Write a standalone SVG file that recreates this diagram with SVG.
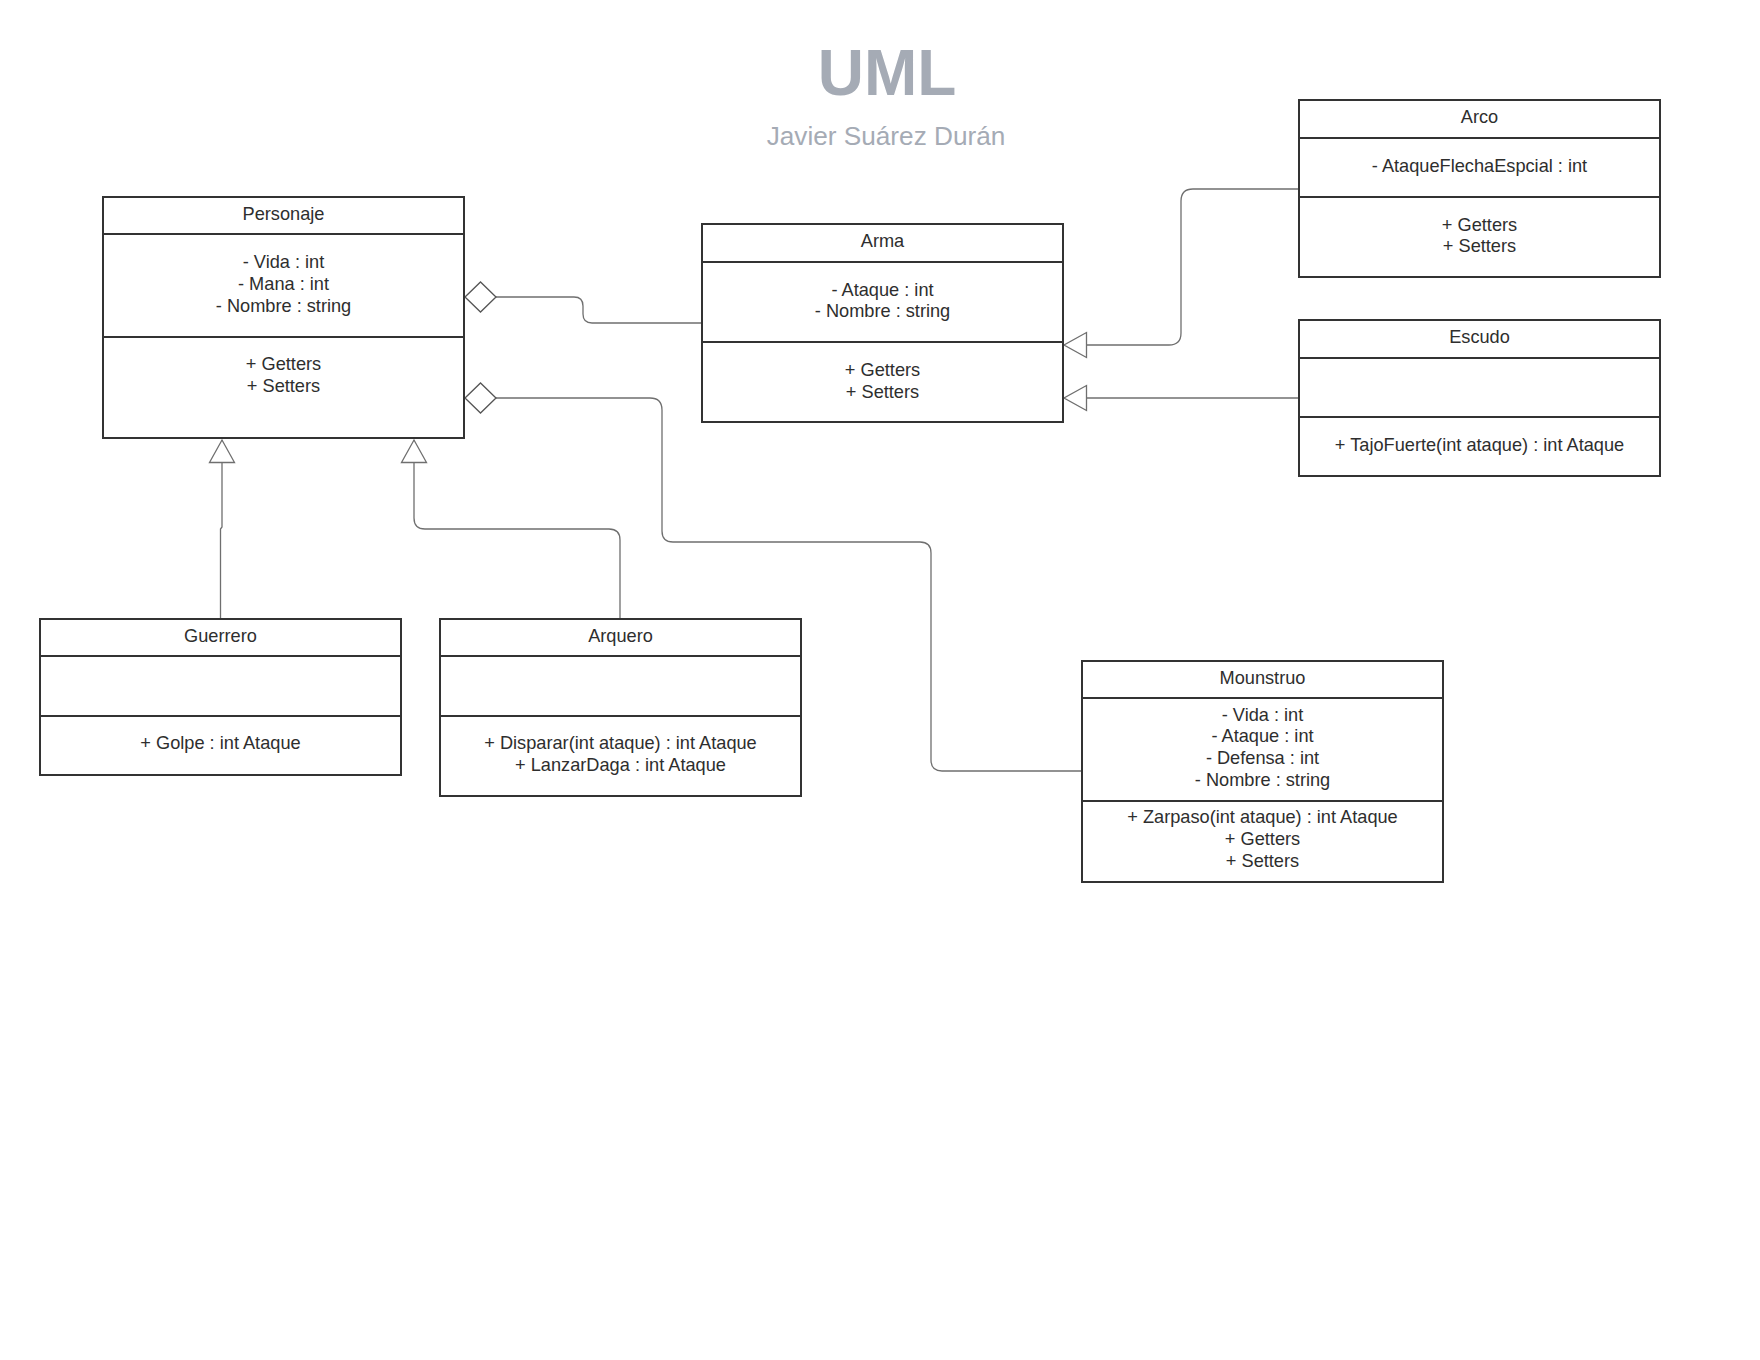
<svg xmlns="http://www.w3.org/2000/svg" width="1760" height="1360" viewBox="0 0 1760 1360">
<style>
.box{fill:#fff;stroke:#333;stroke-width:2}
.sep{stroke:#333;stroke-width:2}
.t{font-family:"Liberation Sans",Arial,sans-serif;font-size:18.2px;fill:#2e2e2e;text-anchor:middle}
.con{fill:none;stroke:#6f6f6f;stroke-width:1.3}
.title{font-family:"Liberation Sans",Arial,sans-serif;fill:#a5abb5;text-anchor:middle}
</style>
<defs>
<marker id="tri" markerUnits="userSpaceOnUse" markerWidth="26" markerHeight="28" viewBox="0 0 26 28" refX="24" refY="14" orient="auto">
<path d="M1.5,1.5 L24,14 L1.5,26.5 Z" fill="#fff" stroke="#6f6f6f" stroke-width="1.3"/>
</marker>
<marker id="dia" markerUnits="userSpaceOnUse" markerWidth="34" markerHeight="32" viewBox="0 0 34 32" refX="1" refY="16" orient="auto">
<path d="M1,16 L16.5,1 L32,16 L16.5,31 Z" fill="#fff" stroke="#555" stroke-width="1.3"/>
</marker>
</defs>
<rect width="1760" height="1360" fill="#fff"/>

<g id="title">
<text class="title" x="887" y="95" font-size="64" font-weight="bold">UML</text>
<text class="title" x="886" y="145" font-size="26.2">Javier Suárez Durán</text>
</g>

<g id="connectors">
<path class="con" marker-start="url(#dia)" d="M465,297 H574 Q583,297 583,306 V314 Q583,323 592,323 H702"/>
<path class="con" marker-start="url(#dia)" d="M465,398 H650 Q662,398 662,410 V531 Q662,542 673,542 H920 Q931,542 931,553 V760 Q931,771 942,771 H1082"/>
<path class="con" marker-end="url(#tri)" d="M220.5,619 V529 L222,527 V440"/>
<path class="con" marker-end="url(#tri)" d="M620,619 V540 Q620,529 609,529 H425 Q414,529 414,518 V440"/>
<path class="con" marker-end="url(#tri)" d="M1299,189 H1193 Q1181,189 1181,201 V333 Q1181,345 1169,345 H1064"/>
<path class="con" marker-end="url(#tri)" d="M1299,398 H1064"/>
</g>

<g id="Personaje">
<rect class="box" x="103" y="197" width="361" height="241"/>
<line class="sep" x1="103" y1="234" x2="464" y2="234"/>
<line class="sep" x1="103" y1="337" x2="464" y2="337"/>
<text class="t" x="283.5" y="220">Personaje</text>
<text class="t" x="283.5" y="268.3">- Vida : int</text>
<text class="t" x="283.5" y="290">- Mana : int</text>
<text class="t" x="283.5" y="311.7">- Nombre : string</text>
<text class="t" x="283.5" y="370">+ Getters</text>
<text class="t" x="283.5" y="391.7">+ Setters</text>
</g>

<g id="Arma">
<rect class="box" x="702" y="224" width="361" height="198"/>
<line class="sep" x1="702" y1="262" x2="1063" y2="262"/>
<line class="sep" x1="702" y1="342" x2="1063" y2="342"/>
<text class="t" x="882.5" y="247">Arma</text>
<text class="t" x="882.5" y="295.5">- Ataque : int</text>
<text class="t" x="882.5" y="317.2">- Nombre : string</text>
<text class="t" x="882.5" y="376">+ Getters</text>
<text class="t" x="882.5" y="397.7">+ Setters</text>
</g>

<g id="Arco">
<rect class="box" x="1299" y="100" width="361" height="177"/>
<line class="sep" x1="1299" y1="138" x2="1660" y2="138"/>
<line class="sep" x1="1299" y1="197" x2="1660" y2="197"/>
<text class="t" x="1479.5" y="123">Arco</text>
<text class="t" x="1479.5" y="171.5">- AtaqueFlechaEspcial : int</text>
<text class="t" x="1479.5" y="230.5">+ Getters</text>
<text class="t" x="1479.5" y="252.2">+ Setters</text>
</g>

<g id="Escudo">
<rect class="box" x="1299" y="320" width="361" height="156"/>
<line class="sep" x1="1299" y1="358" x2="1660" y2="358"/>
<line class="sep" x1="1299" y1="417" x2="1660" y2="417"/>
<text class="t" x="1479.5" y="343">Escudo</text>
<text class="t" x="1479.5" y="450.5">+ TajoFuerte(int ataque) : int Ataque</text>
</g>

<g id="Guerrero">
<rect class="box" x="40" y="619" width="361" height="156"/>
<line class="sep" x1="40" y1="656" x2="401" y2="656"/>
<line class="sep" x1="40" y1="716" x2="401" y2="716"/>
<text class="t" x="220.5" y="642">Guerrero</text>
<text class="t" x="220.5" y="749">+ Golpe : int Ataque</text>
</g>

<g id="Arquero">
<rect class="box" x="440" y="619" width="361" height="177"/>
<line class="sep" x1="440" y1="656" x2="801" y2="656"/>
<line class="sep" x1="440" y1="716" x2="801" y2="716"/>
<text class="t" x="620.5" y="642">Arquero</text>
<text class="t" x="620.5" y="749">+ Disparar(int ataque) : int Ataque</text>
<text class="t" x="620.5" y="770.7">+ LanzarDaga : int Ataque</text>
</g>

<g id="Mounstruo">
<rect class="box" x="1082" y="661" width="361" height="221"/>
<line class="sep" x1="1082" y1="698" x2="1443" y2="698"/>
<line class="sep" x1="1082" y1="801" x2="1443" y2="801"/>
<text class="t" x="1262.5" y="684">Mounstruo</text>
<text class="t" x="1262.5" y="720.7">- Vida : int</text>
<text class="t" x="1262.5" y="742.4">- Ataque : int</text>
<text class="t" x="1262.5" y="764.1">- Defensa : int</text>
<text class="t" x="1262.5" y="785.8">- Nombre : string</text>
<text class="t" x="1262.5" y="823.3">+ Zarpaso(int ataque) : int Ataque</text>
<text class="t" x="1262.5" y="845">+ Getters</text>
<text class="t" x="1262.5" y="866.7">+ Setters</text>
</g>
</svg>
